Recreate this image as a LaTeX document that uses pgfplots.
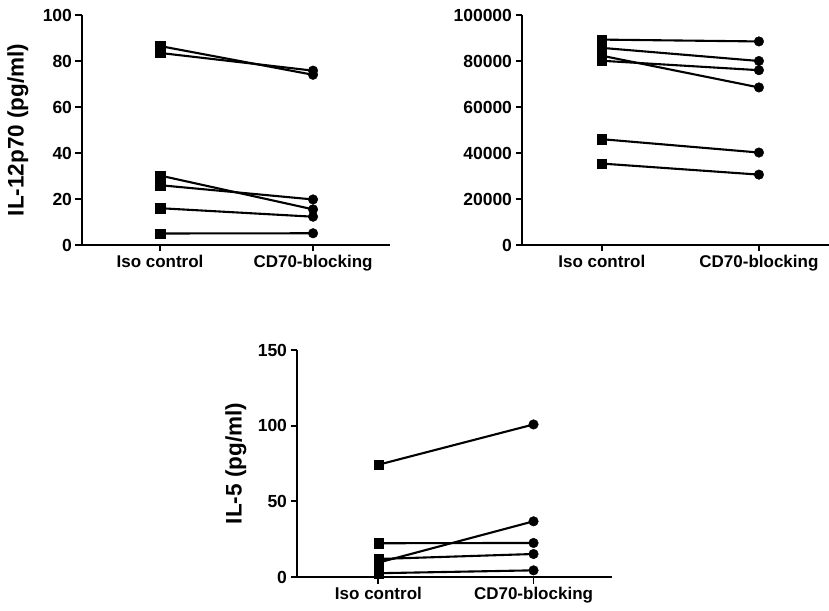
\documentclass[border=0pt]{standalone}
\usepackage{fontspec}
\setmainfont{Liberation Sans}
\usepackage{pgfplots}
\pgfplotsset{compat=1.18}

\newcommand{\tickfont}{\fontsize{17.5}{20}\selectfont\bfseries}
\newcommand{\catfont}{\fontsize{17}{20}\selectfont\bfseries}
\newcommand{\lblfont}{\fontsize{22.5}{26}\selectfont\bfseries}

\pgfplotsset{
  prism/.style={
    scale only axis,
    clip=false,
    axis x line=bottom,
    axis y line=left,
    axis line style={line width=2.3pt,-},
    tick style={line width=1.9pt,black},
    tick align=outside,
    major tick length=6.5pt,
    xtick={0,1},
    xticklabels={Iso control,CD70-blocking},
    ymin=0,
    scaled y ticks=false,
    y tick label style={font=\tickfont},
    x tick label style={font=\catfont},
    label style={font=\lblfont},
    /pgf/number format/fixed,
    /pgf/number format/assume math mode=true,
    /pgf/number format/1000 sep={},
  },
  pair/.style={
    black, line width=2.1pt,
    scatter, point meta=explicit symbolic,
    every mark/.append style={line width=0.4pt},
    scatter/classes={
      a={mark=square*,mark size=4.7pt,black},
      b={mark=*,mark size=4.8pt,black}},
  },
}

\begin{document}
\begin{tikzpicture}
\path[use as bounding box] (0,0) rectangle (829pt,610pt);

% IL-12p70
\begin{axis}[prism,
  at={(82pt,365pt)}, anchor=south west,
  width=308pt, height=230pt,
  xmin=-0.51, xmax=1.503,
  ymax=100, ytick={0,20,40,60,80,100},
  ylabel={IL-12p70 (pg/ml)},
  ylabel style={at={(axis description cs:-0.208,0.5)},anchor=center},
]
\addplot[pair] coordinates {(0,86.5)[a] (1,74.0)[b]};
\addplot[pair] coordinates {(0,83.5)[a] (1,75.8)[b]};
\addplot[pair] coordinates {(0,30.2)[a] (1,15.5)[b]};
\addplot[pair] coordinates {(0,26.0)[a] (1,19.8)[b]};
\addplot[pair] coordinates {(0,16.0)[a] (1,12.3)[b]};
\addplot[pair] coordinates {(0,5.0)[a] (1,5.1)[b]};
\end{axis}

% second cytokine, no label
\begin{axis}[prism,
  at={(522pt,365pt)}, anchor=south west,
  width=307pt, height=230pt,
  xmin=-0.508, xmax=1.446,
  ymax=100000, ytick={0,20000,40000,60000,80000,100000},
]
\addplot[pair] coordinates {(0,89300)[a] (1,88500)[b]};
\addplot[pair] coordinates {(0,85700)[a] (1,80000)[b]};
\addplot[pair] coordinates {(0,82300)[a] (1,68500)[b]};
\addplot[pair] coordinates {(0,80100)[a] (1,76000)[b]};
\addplot[pair] coordinates {(0,46000)[a] (1,40200)[b]};
\addplot[pair] coordinates {(0,35400)[a] (1,30600)[b]};
\end{axis}

% IL-5
\begin{axis}[prism,
  at={(297pt,33pt)}, anchor=south west,
  width=315pt, height=227pt,
  xmin=-0.525, xmax=1.506,
  ymax=150, ytick={0,50,100,150},
  ylabel={IL-5 (pg/ml)},
  ylabel style={at={(axis description cs:-0.194,0.5)},anchor=center},
]
\addplot[pair] coordinates {(0,74.2)[a] (1,100.8)[b]};
\addplot[pair] coordinates {(0,22.3)[a] (1,22.5)[b]};
\addplot[pair] coordinates {(0,11.9)[a] (1,15.2)[b]};
\addplot[pair] coordinates {(0,9.5)[a] (1,36.8)[b]};
\addplot[pair] coordinates {(0,2.5)[a] (1,4.4)[b]};
\end{axis}
\end{tikzpicture}
\end{document}
